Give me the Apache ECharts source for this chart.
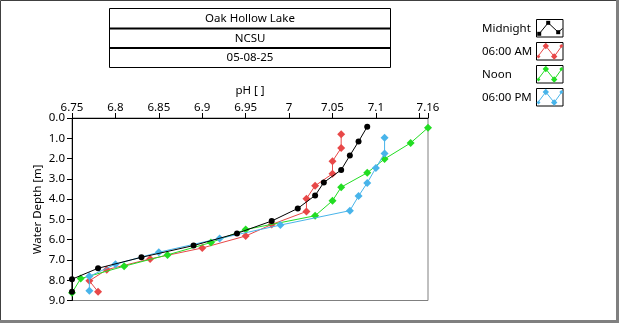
<!DOCTYPE html>
<html>
<head>
<meta charset="utf-8">
<script src="https://cdn.jsdelivr.net/npm/echarts@6/dist/echarts.min.js"></script>
<style>
  html, body { margin: 0; padding: 0; background: #fff; }
  #chart { width: 620px; height: 324px; }
</style>
</head>
<body>
<div id="chart"></div>
<script>
// Depth profiles of pH at Oak Hollow Lake, four sampling times
const titleRows = ['Oak Hollow Lake', 'NCSU', '05-08-25'];
const seriesNames = ['Midnight', '06:00 AM', 'Noon', '06:00 PM'];

const midnightPH    = [7.09, 7.08, 7.07, 7.06, 7.04, 7.03, 7.01, 6.98, 6.94, 6.89, 6.83, 6.78, 6.75, 6.75];
const midnightDepth = [0.43, 1.16, 1.85, 2.56, 3.18, 3.82, 4.46, 5.08, 5.69, 6.29, 6.87, 7.41, 7.95, 8.57];

const morningPH    = [7.06, 7.06, 7.05, 7.05, 7.03, 7.02, 7.02, 6.98, 6.95, 6.90, 6.84, 6.79, 6.77, 6.78];
const morningDepth = [0.80, 1.48, 2.13, 2.75, 3.34, 3.98, 4.61, 5.25, 5.82, 6.41, 6.95, 7.48, 8.03, 8.57];

const noonPH    = [7.16, 7.14, 7.11, 7.09, 7.06, 7.05, 7.03, 6.95, 6.91, 6.86, 6.81, 6.76, 6.75];
const noonDepth = [0.48, 1.23, 2.02, 2.70, 3.41, 4.08, 4.82, 5.50, 6.14, 6.75, 7.31, 7.92, 8.62];

const eveningPH    = [7.11, 7.11, 7.10, 7.09, 7.08, 7.07, 6.99, 6.92, 6.85, 6.80, 6.77, 6.77];
const eveningDepth = [0.98, 1.75, 2.46, 3.20, 3.85, 4.57, 5.28, 5.94, 6.62, 7.21, 7.81, 8.52];

const depthTicks = [0, 1, 2, 3, 4, 5, 6, 7, 8, 9];

const colors = ['#000000', '#e84848', '#22dd22', '#48b4ea'];
const FONT = 'Noto Sans';
const FS = 11.5;

function zip(xs, ys) { return xs.map((x, i) => [x, ys[i]]); }

const chart = echarts.init(document.getElementById('chart'), null, { renderer: 'canvas' });

// plot rectangle
const G = { left: 72, top: 118, right: 428, bottom: 300.5 };

// legend: label on the left, boxed line sample on the right
const legendTextX = 482, legendBoxX = 536.5, legendY0 = 19.5, legendPitch = 23, boxW = 26.5, boxH = 17.5;
function diamond(cx, cy, r, color) {
  return { type: 'polygon', z: 62, shape: { points: [[cx, cy - r], [cx + r, cy], [cx, cy + r], [cx - r, cy]] },
           style: { fill: color } };
}
function legendItem(i) {
  const bx = legendBoxX, by = legendY0 + i * legendPitch;
  const c = colors[i];
  const P = (x, y) => [bx + x, by + y];
  const items = [
    { type: 'text', z: 60, silent: true, x: legendTextX, y: by + boxH / 2,
      style: { text: seriesNames[i], fill: '#000', font: FS + 'px "' + FONT + '"', textAlign: 'left', textVerticalAlign: 'middle' } },
    { type: 'rect', z: 60, silent: true, shape: { x: bx, y: by, width: boxW, height: boxH },
      style: { fill: '#fff', stroke: '#000', lineWidth: 1 } }
  ];
  if (i === 0) {
    const pts = [P(2.7, 14.3), P(11.7, 3.3), P(21.7, 12.7), P(26, 9)];
    items.push({ type: 'polyline', z: 61, silent: true, shape: { points: pts }, style: { stroke: c, lineWidth: 1, fill: null } });
    pts.slice(0, 3).forEach(p =>
      items.push({ type: 'rect', z: 62, silent: true, shape: { x: p[0] - 2, y: p[1] - 2, width: 4, height: 4 }, style: { fill: c } }));
  } else {
    const pts = [P(1, 14.5), P(9.3, 3.5), P(17.7, 14), P(26, 2.5)];
    items.push({ type: 'polyline', z: 61, silent: true, shape: { points: pts }, style: { stroke: c, lineWidth: 1, fill: null } });
    items.push(diamond(bx + 9.3, by + 3.5, 3.2, c));
    items.push(diamond(bx + 17.7, by + 14, 3.2, c));
    items.push(diamond(bx + 2, by + 14, 2, c));
    items.push(diamond(bx + 24.8, by + 3.5, 2, c));
  }
  return items;
}

const option = {
  animation: false,
  backgroundColor: '#ffffff',
  textStyle: { fontFamily: FONT },
  grid: {
    left: G.left, top: G.top, width: G.right - G.left, height: G.bottom - G.top,
    show: true, borderColor: '#808080', borderWidth: 1, backgroundColor: '#ffffff'
  },
  xAxis: {
    type: 'value',
    position: 'top',
    min: 6.75, max: 7.16, interval: 0.05,
    name: 'pH [ ]', nameLocation: 'middle', nameGap: 20,
    nameTextStyle: { fontFamily: FONT, fontSize: FS, color: '#000' },
    axisLine: { show: true, onZero: false, lineStyle: { color: '#000', width: 1 } },
    axisTick: { show: true, inside: false, length: 5, lineStyle: { color: '#000' } },
    axisLabel: {
      show: true, margin: 4, fontFamily: FONT, fontSize: FS, color: '#000',
      showMinLabel: true, showMaxLabel: true,
      formatter: v => Math.abs(v - 7.15) < 1e-6 ? '' : String(+(+v).toFixed(2))
    },
    splitLine: { show: false }
  },
  yAxis: {
    type: 'value',
    inverse: true,
    min: depthTicks[0], max: depthTicks[depthTicks.length - 1], interval: 1,
    name: 'Water Depth [m]', nameLocation: 'middle', nameGap: 28, nameRotate: 90, nameMoveOverlap: false,
    nameTextStyle: { fontFamily: FONT, fontSize: FS, color: '#000' },
    axisLine: { show: true, onZero: false, lineStyle: { color: '#000', width: 1 } },
    axisTick: { show: true, inside: false, length: 5, lineStyle: { color: '#000' } },
    axisLabel: { margin: 7, fontFamily: FONT, fontSize: FS, color: '#000', formatter: v => (+v).toFixed(1) },
    splitLine: { show: false }
  },
  series: [
    { name: seriesNames[0], type: 'line', data: zip(midnightPH, midnightDepth),
      symbol: 'circle', symbolSize: 6, color: colors[0], lineStyle: { width: 1, color: colors[0] },
      itemStyle: { color: colors[0] }, z: 5 },
    { name: seriesNames[1], type: 'line', data: zip(morningPH, morningDepth),
      symbol: 'diamond', symbolSize: 8, color: colors[1], lineStyle: { width: 1, color: colors[1] },
      itemStyle: { color: colors[1] }, z: 2 },
    { name: seriesNames[2], type: 'line', data: zip(noonPH, noonDepth),
      symbol: 'diamond', symbolSize: 8, color: colors[2], lineStyle: { width: 1, color: colors[2] },
      itemStyle: { color: colors[2] }, z: 3 },
    { name: seriesNames[3], type: 'line', data: zip(eveningPH, eveningDepth),
      symbol: 'diamond', symbolSize: 8, color: colors[3], lineStyle: { width: 1, color: colors[3] },
      itemStyle: { color: colors[3] }, z: 4 }
  ],
  graphic: [
    // window frame
    { type: 'rect', z: 50, silent: true, shape: { x: 0.5, y: 0.5, width: 617, height: 321 },
      style: { fill: null, stroke: '#404040', lineWidth: 1 } },
    { type: 'rect', z: 51, silent: true, shape: { x: 616, y: 0, width: 3, height: 323 }, style: { fill: '#808080' } },
    { type: 'rect', z: 51, silent: true, shape: { x: 0, y: 320, width: 619, height: 3 }, style: { fill: '#808080' } },
    // header table
    { type: 'rect', z: 50, silent: true, shape: { x: 109.5, y: 8.5, width: 281, height: 59 },
      style: { fill: '#fff', stroke: '#000', lineWidth: 1 } },
    { type: 'rect', z: 51, silent: true, shape: { x: 109.5, y: 27.5, width: 281, height: 2 }, style: { fill: '#000' } },
    { type: 'rect', z: 51, silent: true, shape: { x: 109.5, y: 47, width: 281, height: 2 }, style: { fill: '#000' } },
    ...titleRows.map((t, i) => ({
      type: 'text', z: 52, silent: true, x: 250, y: [18.5, 38.5, 58][i],
      style: { text: t, fill: '#000', font: FS + 'px "' + FONT + '"', textAlign: 'center', textVerticalAlign: 'middle' }
    })),
    ...seriesNames.flatMap((_, i) => legendItem(i))
  ]
};

chart.setOption(option);
</script>
</body>
</html>
